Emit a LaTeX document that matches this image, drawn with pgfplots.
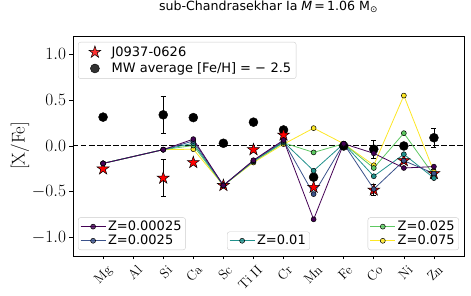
\documentclass[border=0pt]{standalone}
\usepackage{pgfplots}
\pgfplotsset{compat=1.18}
\usepackage{pgfplotstable}
\usepackage{fontspec}
\newfontfamily\dejavu{DejaVu Sans}
\definecolor{vA}{HTML}{440154}
\definecolor{vB}{HTML}{3B528B}
\definecolor{vC}{HTML}{21918C}
\definecolor{vD}{HTML}{5EC962}
\definecolor{vE}{HTML}{FDE725}

\pgfdeclareplotmark{fstar}{%
 \pgfpathmoveto{\pgfqpointpolar{90}{\pgfplotmarksize}}%
 \pgfpathlineto{\pgfqpointpolar{126}{0.382\pgfplotmarksize}}%
 \pgfpathlineto{\pgfqpointpolar{162}{\pgfplotmarksize}}%
 \pgfpathlineto{\pgfqpointpolar{198}{0.382\pgfplotmarksize}}%
 \pgfpathlineto{\pgfqpointpolar{234}{\pgfplotmarksize}}%
 \pgfpathlineto{\pgfqpointpolar{270}{0.382\pgfplotmarksize}}%
 \pgfpathlineto{\pgfqpointpolar{306}{\pgfplotmarksize}}%
 \pgfpathlineto{\pgfqpointpolar{342}{0.382\pgfplotmarksize}}%
 \pgfpathlineto{\pgfqpointpolar{18}{\pgfplotmarksize}}%
 \pgfpathlineto{\pgfqpointpolar{54}{0.382\pgfplotmarksize}}%
 \pgfpathclose
 \pgfusepathqfillstroke
}

\pgfplotstableread{
x z1 z2 z3 z4 z5
0 -0.19 -0.19 -0.19 -0.19 -0.19
2 -0.04 -0.04 -0.04 -0.04 -0.04
3 0.075 0.055 0.03 0.005 -0.035
4 -0.43 -0.43 -0.43 -0.43 -0.43
5 -0.155 -0.16 -0.165 -0.17 -0.18
6 0.065 0.055 0.045 0.035 0.02
7 -0.80 -0.525 -0.27 -0.07 0.195
8 0.025 0.025 0.025 0.025 0.025
9 -0.08 -0.47 -0.33 -0.24 -0.21
10 -0.24 -0.16 -0.09 0.14 0.55
11 -0.225 -0.30 -0.35 -0.32 -0.28
}\models

\pgfplotstableread{
x y
0 -0.25
2 -0.35
3 -0.18
4 -0.43
5 -0.04
6 0.12
7 -0.45
9 -0.48
10 -0.16
11 -0.30
}\stars

\pgfplotstableread{
x y e
2 -0.35 0.2
9 -0.48 0.06
11 -0.30 0.05
}\starerr

\pgfplotstableread{
x y
0 0.315
2 0.34
3 0.31
4 0.03
5 0.26
6 0.175
7 -0.34
8 0.0
9 -0.035
10 0.0
11 0.09
}\mw

\pgfplotstableread{
x y e
2 0.34 0.2
9 -0.035 0.1
11 0.09 0.1
}\mwerr

\pgfplotsset{
  base/.style={
    width=391pt, height=220pt, scale only axis,
    xmin=-1, xmax=12, ymin=-1.2, ymax=1.2,
    at={(0,0)}, anchor=south west,
  },
  legbox/.style={
    base, hide axis,
    legend cell align=left,
    legend style={font=\dejavu\fontsize{13}{14}\selectfont,
      draw=black!20, rounded corners=2.5pt, fill=white, fill opacity=0.8, text opacity=1,
      inner xsep=2pt, inner ysep=1.5pt, row sep=-1pt},
    legend image code/.code={\draw[mark repeat=2,mark phase=2,##1] plot coordinates {(0pt,0pt)(12.5pt,0pt)(25pt,0pt)};},
  },
  dotleg/.style={legend image code/.code={\path (0pt,0pt) (28pt,0pt); \draw[##1] plot coordinates {(13.5pt,0pt)};}},
  modl/.style={line width=0.8pt, color=#1, mark=*, mark size=2.5pt,
    mark options={fill=#1, draw=black, line width=0.5pt, solid}},
  starm/.style={only marks, mark=fstar, mark size=6.3pt, mark options={fill=red, draw=black, line width=0.5pt}},
}

\begin{document}
\begin{tikzpicture}
\begin{axis}[base,
  axis line style={line width=0.7pt},
  tick pos=left, tick align=outside, major tick length=3.5pt,
  every tick/.style={black, line width=0.7pt},
  xtick={0,...,11},
  xticklabels={Mg,Al,Si,Ca,Sc,Ti II,Cr,Mn,Fe,Co,Ni,Zn},
  xticklabel style={font=\fontsize{13.5}{15}\selectfont, xshift=3pt, rotate=45, anchor=north east},
  ytick={-1,-0.5,0,0.5,1},
  yticklabel style={font=\fontsize{16}{18}\selectfont, /pgf/number format/.cd, fixed, fixed zerofill, precision=1},
  ylabel={[X/Fe]},
  ylabel style={font=\fontsize{18.5}{20}\selectfont, at={(axis description cs:-0.1355,0.5)}, anchor=center},
  title={sub-Chandrasekhar Ia \textit{M}\,=\,1.06 M\textsubscript{⊙}},
  title style={font=\dejavu\fontsize{12.6}{14}\selectfont, at={(axis description cs:0.5,1)}, anchor=base, yshift=19.5pt},
  clip=false,
]
\addplot[black, dashed, line width=1pt, dash pattern=on 5.5pt off 2.5pt, forget plot] coordinates {(-1,0) (12,0)};
% MW averages
\addplot[draw=none, forget plot, error bars/.cd, y dir=both, y explicit,
  error bar style={black, line width=0.6pt}, error mark options={black, rotate=90, mark size=2.5pt, line width=0.6pt}]
  table[x=x, y=y, y error=e]{\mwerr};
\addplot[only marks, mark=*, mark size=4.5pt, black, forget plot] table[x=x,y=y]{\mw};
% J0937-0626
\addplot[draw=none, forget plot, error bars/.cd, y dir=both, y explicit,
  error bar style={black, line width=0.6pt}, error mark options={black, rotate=90, mark size=2.5pt, line width=0.6pt}]
  table[x=x, y=y, y error=e]{\starerr};
\addplot[starm, forget plot] table[x=x,y=y]{\stars};
% models
\addplot[modl=vE, forget plot] table[x=x,y=z5]{\models};
\addplot[modl=vD, forget plot] table[x=x,y=z4]{\models};
\addplot[modl=vC, forget plot] table[x=x,y=z3]{\models};
\addplot[modl=vB, forget plot] table[x=x,y=z2]{\models};
\addplot[modl=vA, forget plot] table[x=x,y=z1]{\models};
\end{axis}

% legend: data
\begin{axis}[legbox, dotleg,
  legend style={at={(0.0128,0.973)}, anchor=north west, row sep=1pt, inner xsep=3pt, inner ysep=2.5pt},
]
\addlegendimage{starm}
\addlegendentry{J0937-0626}
\addlegendimage{only marks, mark=*, mark size=4.5pt, black}
\addlegendentry{MW average [Fe/H]\hspace{4pt}=\hspace{4pt}−\hspace{4.5pt}2.5}
\end{axis}

\begin{axis}[legbox, legend style={at={(0.0128,0.027)}, anchor=south west}]
\addlegendimage{modl=vA}
\addlegendentry{Z=0.00025}
\addlegendimage{modl=vB}
\addlegendentry{Z=0.0025}
\end{axis}

\begin{axis}[legbox, legend style={at={(0.5,0.027)}, anchor=south}]
\addlegendimage{modl=vC}
\addlegendentry{Z=0.01}
\end{axis}

\begin{axis}[legbox, legend style={at={(0.987,0.027)}, anchor=south east}]
\addlegendimage{modl=vD}
\addlegendentry{Z=0.025}
\addlegendimage{modl=vE}
\addlegendentry{Z=0.075}
\end{axis}

\pgfresetboundingbox
\path[use as bounding box] (-73pt,-40pt) rectangle (398pt,256pt);
\end{tikzpicture}
\end{document}
